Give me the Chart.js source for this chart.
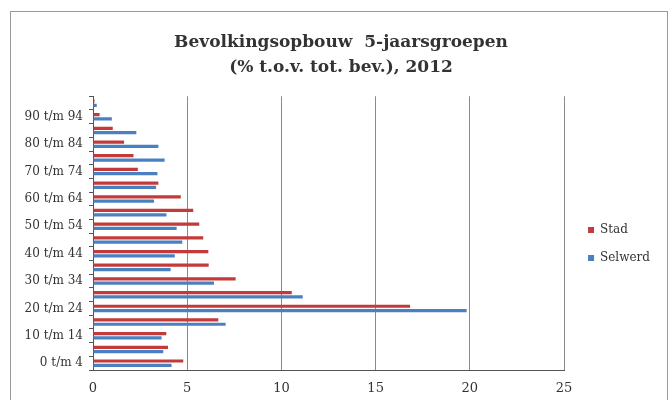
<!DOCTYPE html>
<html>
<head>
<meta charset="utf-8">
<script src="https://cdn.jsdelivr.net/npm/chart.js@4.4.1/dist/chart.umd.min.js"></script>
<style>
  html, body { margin: 0; padding: 0; background: #fff; }
  #wrap { position: relative; width: 672px; height: 400px; overflow: hidden; }
  #frame { position: absolute; left: 10px; top: 11px; width: 658px; height: 420px;
           border: 1px solid #9a9a9a; box-sizing: border-box; pointer-events: none; }
  canvas { display: block; }
</style>
</head>
<body>
<div id="wrap">
  <canvas id="chart" width="672" height="400"></canvas>
  <div id="frame"></div>
</div>
<script>
// Age groups, youngest first (drawn from the bottom up)
const ageGroups = [
  '0 t/m 4', '5 t/m 9', '10 t/m 14', '15 t/m 19', '20 t/m 24',
  '25 t/m 29', '30 t/m 34', '35 t/m 39', '40 t/m 44', '45 t/m 49',
  '50 t/m 54', '55 t/m 59', '60 t/m 64', '65 t/m 69', '70 t/m 74',
  '75 t/m 79', '80 t/m 84', '85 t/m 89', '90 t/m 94', '95 t/m 99'
];

// Share of total population per age group (%)
const stad = [
  4.79, 3.98, 3.89, 6.65, 16.83,
  10.55, 7.57, 6.14, 6.12, 5.85,
  5.64, 5.32, 4.66, 3.47, 2.38,
  2.15, 1.65, 1.05, 0.35, 0.08
];
const selwerd = [
  4.17, 3.73, 3.64, 7.04, 19.83,
  11.13, 6.42, 4.12, 4.34, 4.74,
  4.44, 3.90, 3.24, 3.35, 3.42,
  3.80, 3.47, 2.30, 1.00, 0.20
];

// Value axis ticks
const xTicks = [0, 5, 10, 15, 20, 25];

const seriesNames = ['Stad', 'Selwerd'];
const seriesColors = ['#c33a3a', '#4a80bf'];

const serif = 'DejaVu Serif';
const textColor = '#333333';

// Fine placement of the legend and the title block
const boxShift = {
  id: 'boxShift',
  afterUpdate(chart) {
    const lg = chart.legend;
    if (lg) { lg.top += 44; lg.bottom += 44; lg.left += 8; lg.right += 8; }
    const tt = chart.titleBlock;
    if (tt) { tt.left += 15; tt.right += 15; }
  }
};

new Chart(document.getElementById('chart'), {
  type: 'bar',
  data: {
    labels: ageGroups,
    datasets: [
      { label: seriesNames[0], data: stad, backgroundColor: seriesColors[0] },
      { label: seriesNames[1], data: selwerd, backgroundColor: seriesColors[1] }
    ]
  },
  options: {
    indexAxis: 'y',
    responsive: false,
    animation: false,
    devicePixelRatio: 1,
    categoryPercentage: 0.63,
    barPercentage: 0.75,
    layout: { padding: { left: 0, right: 20, top: 0, bottom: 0 } },
    plugins: {
      title: {
        display: true,
        text: ['Bevolkingsopbouw  5-jaarsgroepen', '(% t.o.v. tot. bev.), 2012'],
        color: textColor,
        font: { family: serif, size: 17, weight: 'bold', lineHeight: 1.42 },
        padding: { top: 31, bottom: 17 }
      },
      legend: {
        position: 'right',
        align: 'center',
        labels: {
          boxWidth: 6,
          boxHeight: 6,
          padding: 16,
          color: textColor,
          font: { family: serif, size: 12 }
        }
      },
      tooltip: { enabled: false }
    },
    scales: {
      x: {
        min: 0,
        max: 25,
        afterBuildTicks: s => { s.ticks = xTicks.map(v => ({ value: v })); },
        afterFit: s => { s.height = 30; },
        grid: { color: '#8a8a8a', lineWidth: 1, drawTicks: false },
        border: { color: '#555555', width: 1 },
        ticks: {
          padding: 11,
          color: textColor,
          font: { family: serif, size: 13 }
        }
      },
      y: {
        reverse: true,
        afterFit: s => { s.width = 93; },
        grid: { drawOnChartArea: false, drawTicks: true, tickLength: 4, color: '#555555', offset: true },
        border: { color: '#555555', width: 1 },
        ticks: {
          autoSkip: false,
          padding: 6,
          color: textColor,
          font: { family: serif, size: 12 },
          callback: (v, i) => (i % 2 === 0 ? ageGroups[i] : '')
        }
      }
    }
  },
  plugins: [boxShift]
});
</script>
</body>
</html>
